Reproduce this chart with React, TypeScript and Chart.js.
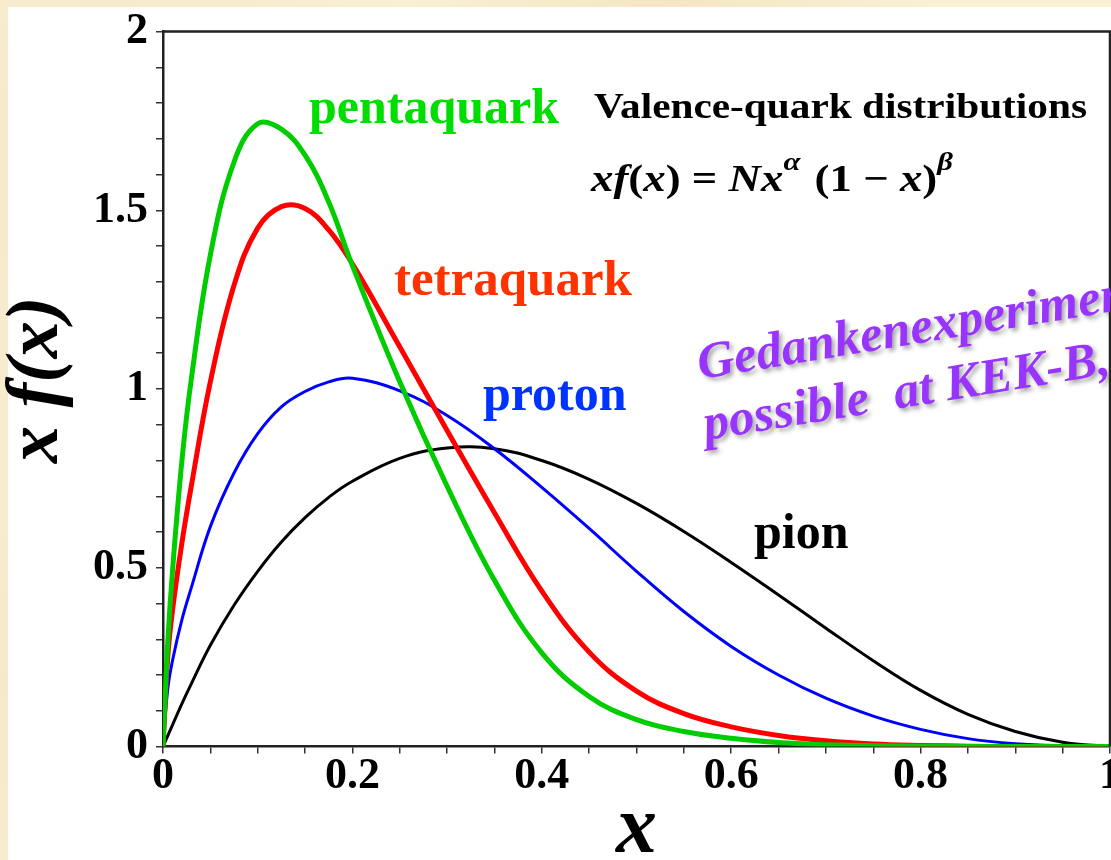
import React, { useEffect, useRef } from "react";
import { Chart, registerables } from "chart.js";

Chart.register(...registerables);

// ---- data ----
const seriesNames = ["pentaquark", "tetraquark", "proton", "pion"];

// x sampling positions (momentum fraction x)
const xs = [0, 0.005, 0.01, 0.02, 0.03, 0.05, 0.075, 0.1, 0.125, 0.15, 0.175, 0.2, 0.25, 0.3, 0.35, 0.4, 0.45, 0.5, 0.55, 0.6, 0.65, 0.7, 0.75, 0.8, 0.85, 0.9, 0.95, 1.0];

const pentaY = [0, 0.29, 0.49, 0.8, 1.03, 1.375, 1.635, 1.742, 1.727, 1.654, 1.523, 1.345, 1.02, 0.728, 0.465, 0.262, 0.14, 0.075, 0.042, 0.023, 0.011, 0.005, 0.002, 0.001, 0, 0, 0, 0];
const tetraY = [0, 0.25, 0.38, 0.57, 0.73, 1.02, 1.29, 1.45, 1.51, 1.505, 1.445, 1.35, 1.118, 0.884, 0.654, 0.435, 0.264, 0.155, 0.092, 0.055, 0.031, 0.016, 0.007, 0.003, 0.001, 0, 0, 0];
const protonY = [0, 0.16, 0.24, 0.355, 0.445, 0.615, 0.765, 0.875, 0.95, 0.993, 1.02, 1.03, 0.995, 0.926, 0.833, 0.725, 0.61, 0.49, 0.3775, 0.28, 0.2, 0.135, 0.085, 0.048, 0.022, 0.008, 0.002, 0];
const pionY = [0, 0.03, 0.06, 0.12, 0.176, 0.283, 0.395, 0.49, 0.572, 0.64, 0.697, 0.742, 0.806, 0.835, 0.833, 0.8, 0.7475, 0.68, 0.6015, 0.515, 0.424, 0.331, 0.24, 0.157, 0.09, 0.042, 0.012, 0];

const xTickLabels = ["0", "0.2", "0.4", "0.6", "0.8", "1"];
const yTickLabels = ["0", "0.5", "1", "1.5", "2"];

const W = 1111;
const H = 860;
const FAM = '"Liberation Serif", "Times New Roman", serif';

function pts(ys: number[]) {
  return xs.map((x, i) => ({ x, y: ys[i] }));
}

function txt(
  ctx: CanvasRenderingContext2D,
  s: string,
  x: number,
  y: number,
  font: string,
  color: string,
  sx = 1
) {
  ctx.save();
  ctx.translate(x, y);
  ctx.scale(sx, 1);
  ctx.font = font;
  ctx.fillStyle = color;
  ctx.textBaseline = "alphabetic";
  ctx.textAlign = "left";
  ctx.fillText(s, 0, 0);
  ctx.restore();
}

const annotations = {
  id: "annotations",
  afterDraw(chart: any) {
    const ctx: CanvasRenderingContext2D = chart.ctx;
    const a = chart.chartArea;
    // box top and right
    ctx.save();
    ctx.strokeStyle = "#222";
    ctx.lineWidth = 2.5;
    ctx.beginPath();
    ctx.moveTo(a.left, a.top);
    ctx.lineTo(a.right, a.top);
    ctx.lineTo(a.right, a.bottom);
    ctx.stroke();
    ctx.restore();

    // curve labels
    const lab = `bold 50px ${FAM}`;
    txt(ctx, seriesNames[0], 309, 123, lab, "#00DD00");
    txt(ctx, seriesNames[1], 394, 295, `bold 51px ${FAM}`, "#FF3300");
    txt(ctx, seriesNames[2], 483, 410, lab, "#0033FF");
    txt(ctx, seriesNames[3], 754, 548, lab, "#000000");

    // title & formula (horizontally stretched text)
    const sx = 1.18;
    txt(ctx, "Valence-quark distributions", 594, 118, `bold 35px ${FAM}`, "#000", sx);
    const segs: [string, boolean, boolean][] = [
      ["xf", true, false],
      ["(", false, false],
      ["x", true, false],
      [") = ", false, false],
      ["Nx", true, false],
      ["\u03B1", true, true],
      [" (1 \u2212 ", false, false],
      ["x", true, false],
      [")", false, false],
      ["\u03B2", true, true],
    ];
    let cx = 591;
    const base = 191;
    for (const [s, it, sup] of segs) {
      const size = sup ? 26 : 38;
      const f = `${it ? "italic " : ""}bold ${size}px ${FAM}`;
      ctx.font = f;
      const w = ctx.measureText(s).width * sx;
      txt(ctx, s, cx, sup ? base - 21 : base, f, "#000", sx);
      cx += w + (sup ? 3 : 0);
    }

    // rotated purple note
    ctx.save();
    ctx.font = `italic bold 51px ${FAM}`;
    ctx.fillStyle = "#9933FF";
    ctx.shadowColor = "rgba(60,60,60,0.45)";
    ctx.shadowBlur = 4;
    ctx.shadowOffsetX = 3;
    ctx.shadowOffsetY = 3;
    const ang = (-9.3 * Math.PI) / 180;
    ctx.save();
    ctx.translate(700, 379);
    ctx.rotate(ang);
    ctx.fillText("Gedankenexperiment", 0, 0);
    ctx.restore();
    ctx.save();
    ctx.translate(706, 440);
    ctx.rotate(ang);
    ctx.fillText("possible  at KEK-B, Belle", 0, 0);
    ctx.restore();
    ctx.restore();
  },
};

export default function App() {
  const ref = useRef<HTMLCanvasElement | null>(null);

  useEffect(() => {
    if (!ref.current) return;
    const grid = {
      drawOnChartArea: false,
      drawTicks: true,
      tickLength: 7,
      color: "#333",
      lineWidth: 1.5,
    };
    const border = { display: true, color: "#222", width: 2.5 };
    const chart = new Chart(ref.current, {
      type: "line",
      data: {
        datasets: [
          { label: seriesNames[0], data: pts(pentaY), borderColor: "#00CC00", borderWidth: 5, order: 0 },
          { label: seriesNames[1], data: pts(tetraY), borderColor: "#FF0000", borderWidth: 5, order: 1 },
          { label: seriesNames[2], data: pts(protonY), borderColor: "#0000FF", borderWidth: 3, order: 2 },
          { label: seriesNames[3], data: pts(pionY), borderColor: "#000000", borderWidth: 3, order: 3 },
        ].map((d) => ({
          ...d,
          pointRadius: 0,
          fill: false,
          tension: 0.4,
          borderCapStyle: "round" as const,
          borderJoinStyle: "round" as const,
        })),
      },
      options: {
        responsive: false,
        animation: false,
        devicePixelRatio: 1,
        layout: { padding: { left: 0, top: 31.5, right: 1, bottom: 0 } },
        plugins: { legend: { display: false }, tooltip: { enabled: false } },
        scales: {
          x: {
            type: "linear",
            min: 0,
            max: 1,
            ticks: {
              stepSize: 0.05,
              autoSkip: false,
              maxRotation: 0,
              padding: 0,
              color: "#000",
              font: { family: FAM, size: 44, weight: "bold", lineHeight: 1.05 },
              callback: (v: any) => {
                const s = String(Math.round(Number(v) * 100) / 100);
                return xTickLabels.includes(s) ? s : "";
              },
            },
            grid,
            border,
            title: {
              display: true,
              text: "x",
              color: "#000",
              font: { family: FAM, size: 82, style: "italic", weight: "bold", lineHeight: 0.7 },
              padding: { top: 0, bottom: 0 },
            },
            afterFit: (s: any) => {
              s.height = H - 746.5;
              s.paddingLeft = 0;
              s.paddingRight = 0;
            },
          },
          y: {
            type: "linear",
            min: 0,
            max: 2,
            ticks: {
              stepSize: 0.1,
              autoSkip: false,
              padding: 8,
              color: "#000",
              font: { family: FAM, size: 44, weight: "bold" },
              callback: (v: any) => {
                const s = String(Math.round(Number(v) * 10) / 10);
                return yTickLabels.includes(s) ? s : "";
              },
            },
            grid,
            border,
            title: {
              display: true,
              text: " x f(x)",
              color: "#000",
              font: { family: FAM, size: 74, style: "italic", weight: "bold", lineHeight: 1.0 },
              padding: { top: 1, bottom: 0 },
            },
            afterFit: (s: any) => {
              s.width = 163;
              s.paddingTop = 0;
              s.paddingBottom = 0;
            },
          },
        },
      },
      plugins: [annotations],
    } as any);
    return () => chart.destroy();
  }, []);

  return (
    <div
      style={{
        position: "fixed",
        left: 0,
        top: 0,
        width: W,
        height: H,
        overflow: "hidden",
        background:
          "radial-gradient(circle at 10% 20%, rgba(240,222,180,0.5), transparent 30%), radial-gradient(circle at 60% 2%, rgba(238,220,175,0.5), transparent 25%), radial-gradient(circle at 2% 80%, rgba(242,225,185,0.5), transparent 30%), #FAF0D6",
      }}
    >
      <div style={{ position: "absolute", left: 8, top: 7, right: 0, bottom: 0, background: "#FFFFFF" }} />
      <canvas ref={ref} width={W} height={H} style={{ position: "absolute", left: 0, top: 0 }} />
    </div>
  );
}
